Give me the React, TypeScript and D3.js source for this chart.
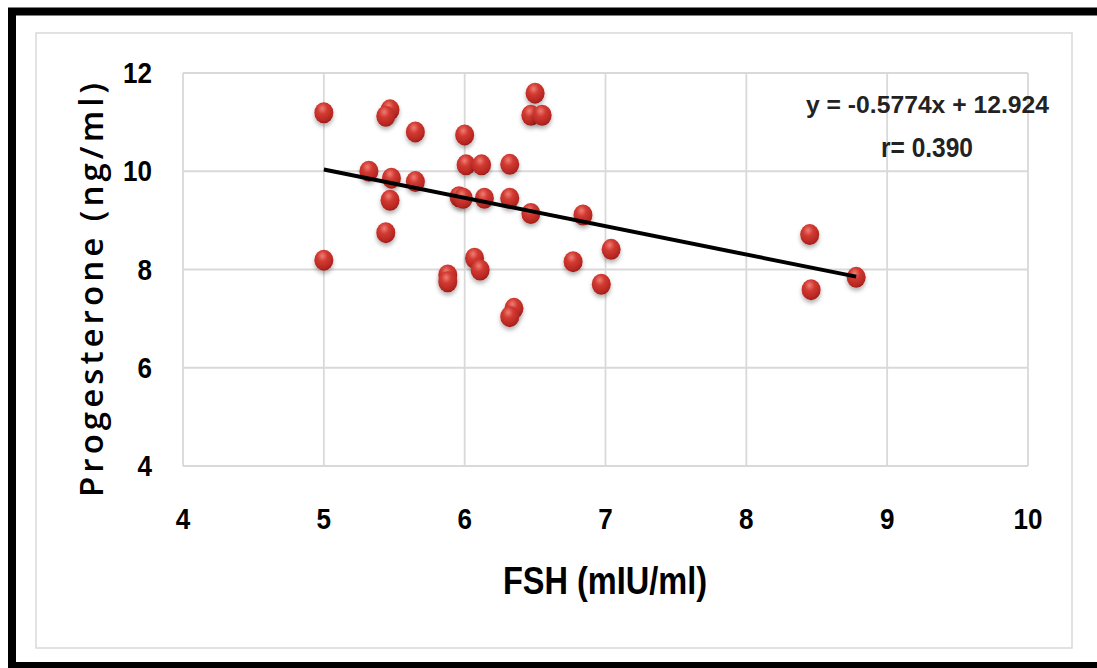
import React from 'react'
import * as d3 from 'd3'

// FSH (x) vs progesterone (y)
const fsh = [
  5.0, 5.47, 5.44, 5.65, 6.0, 6.01, 6.12, 6.32, 6.5, 6.47, 6.55, 5.32,
  5.48, 5.65, 5.47, 5.44, 5.0, 5.96, 5.99, 6.14, 6.32, 6.47, 6.84, 6.77,
  6.07, 6.11, 5.88, 5.88, 6.35, 6.32, 7.04, 6.97, 8.45, 8.46, 8.78,
]
const progesterone = [
  11.19, 11.25, 11.12, 10.8, 10.74, 10.13, 10.13, 10.14, 11.59, 11.14, 11.14, 10.0,
  9.86, 9.79, 9.41, 8.75, 8.19, 9.48, 9.45, 9.45, 9.45, 9.14, 9.11, 8.16,
  8.23, 7.99, 7.89, 7.75, 7.21, 7.04, 8.41, 7.7, 8.71, 7.59, 7.84,
]
const xTicks = [4, 5, 6, 7, 8, 9, 10]
const yTicks = [4, 6, 8, 10, 12]
const slope = -0.5774
const intercept = 12.924
const equationLabel = 'y = -0.5774x + 12.924'
const rLabel = 'r= 0.390'
const xTitle = 'FSH (mIU/ml)'
const yTitle = 'Progesterone (ng/ml)'

const W = 1097
const H = 668
const plot = { left: 183, right: 1028, top: 73, bottom: 466 }
const FONT = '"Liberation Sans", Arial, sans-serif'
const GRID = '#d9d9d9'

export default function App() {
  const x = d3.scaleLinear().domain([4, 10]).range([plot.left, plot.right])
  const y = d3.scaleLinear().domain([4, 12]).range([plot.bottom, plot.top])

  const points = fsh.map((v, i) => ({ fx: v, py: progesterone[i] }))
  const [x0, x1] = d3.extent(fsh) as [number, number]
  const trend = d3.line<number>()
    .x((d) => x(d))
    .y((d) => y(slope * d + intercept))([x0, x1])

  return (
    <div style={{ position: 'fixed', left: 0, top: 0, width: W, height: H, overflow: 'hidden', background: '#fff' }}>
      <svg width={W} height={H} viewBox={`0 0 ${W} ${H}`} style={{ display: 'block' }}>
        <defs>
          <radialGradient id="ball" cx="0.42" cy="0.3" r="0.75">
            <stop offset="0" stopColor="#ee7e74" />
            <stop offset="0.35" stopColor="#d23a32" />
            <stop offset="0.8" stopColor="#b52621" />
            <stop offset="1" stopColor="#8e1714" />
          </radialGradient>
          <filter id="shadow" x="-50%" y="-50%" width="200%" height="220%">
            <feDropShadow dx="0" dy="3" stdDeviation="2" floodColor="#000" floodOpacity="0.3" />
          </filter>
        </defs>

        {/* outer black frame: left, top and bottom only (right edge is cut off) */}
        <path d={`M${W + 10},11.5 H12 V666 H${W + 10}`} fill="none" stroke="#000" strokeWidth={8} />
        {/* chart area border */}
        <rect x={36} y={33} width={1036} height={615} fill="none" stroke={GRID} strokeWidth={1.5} />

        {/* grid */}
        {xTicks.map((t) => (
          <line key={`gx${t}`} x1={x(t)} x2={x(t)} y1={plot.top} y2={plot.bottom} stroke={GRID} strokeWidth={1.8} />
        ))}
        {yTicks.map((t) => (
          <line key={`gy${t}`} x1={plot.left} x2={plot.right} y1={y(t)} y2={y(t)} stroke={GRID} strokeWidth={1.8} />
        ))}

        {/* tick labels */}
        {yTicks.map((t) => (
          <text
            key={`ty${t}`}
            x={152}
            y={y(t) + 10}
            textAnchor="end"
            fontFamily={FONT}
            fontWeight="bold"
            fontSize={29}
            textLength={String(t).length * 14.5}
            lengthAdjust="spacingAndGlyphs"
          >
            {t}
          </text>
        ))}
        {xTicks.map((t) => (
          <text
            key={`tx${t}`}
            x={x(t)}
            y={529}
            textAnchor="middle"
            fontFamily={FONT}
            fontWeight="bold"
            fontSize={29}
            textLength={String(t).length * 14.5}
            lengthAdjust="spacingAndGlyphs"
          >
            {t}
          </text>
        ))}

        {/* markers */}
        {points.map((p, i) => (
          <ellipse
            key={i}
            cx={x(p.fx)}
            cy={y(p.py)}
            rx={9.5}
            ry={10.5}
            fill="url(#ball)"
            filter="url(#shadow)"
          />
        ))}

        {/* trend line */}
        <path d={trend || ''} fill="none" stroke="#000" strokeWidth={4} />

        {/* equation */}
        <text
          x={806}
          y={113}
          fontFamily={FONT}
          fontWeight="bold"
          fontSize={24}
          fill="#222"
          textLength={243}
          lengthAdjust="spacingAndGlyphs"
        >
          {equationLabel}
        </text>
        <text
          x={881}
          y={157}
          fontFamily={FONT}
          fontWeight="bold"
          fontSize={27}
          fill="#222"
          textLength={92}
          lengthAdjust="spacingAndGlyphs"
        >
          {rLabel}
        </text>

        {/* axis titles */}
        <text
          x={503}
          y={594}
          fontFamily={FONT}
          fontWeight="bold"
          fontSize={38}
          textLength={204}
          lengthAdjust="spacingAndGlyphs"
        >
          {xTitle}
        </text>
        <text
          transform="translate(103,497) rotate(-90)"
          fontFamily='"Open Sans", "Liberation Sans", sans-serif'
          fontWeight={600}
          fontSize={33}
          textLength={414}
          lengthAdjust="spacing"
        >
          {yTitle}
        </text>
      </svg>
    </div>
  )
}
